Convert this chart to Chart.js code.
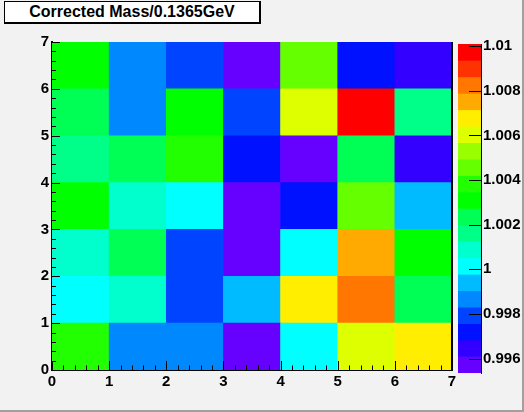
<!DOCTYPE html>
<html>
<head>
<meta charset="utf-8">
<script src="https://cdn.jsdelivr.net/npm/chart.js@4/dist/chart.umd.min.js"></script>
<style>
  html, body { margin: 0; padding: 0; }
  #pad {
    position: relative; width: 524px; height: 412px; box-sizing: border-box;
    background: #f2f2f2; border-right: 2px solid #a0a0a0; border-bottom: 2px solid #a0a0a0;
    font-family: 'Liberation Sans', Arial, sans-serif;
  }
  #pad canvas { position: absolute; left: 0; top: 0; }
  #title {
    position: absolute; left: 4px; top: 1px; width: 254px; height: 20px;
    background: #ffffff; border: 1px solid #000; border-right-width: 2px; border-bottom-width: 2px;
    font-weight: bold; font-size: 16px; line-height: 20px; text-align: center; z-index: 2;
  }
</style>
</head>
<body>
<div id="pad">
  <canvas id="main" width="524" height="412"></canvas>
  <canvas id="palette" width="524" height="412"></canvas>
  <div id="title">Corrected Mass/0.1365GeV</div>
</div>
<script>
// bin edges along x and y
const xBins = [0, 1, 2, 3, 4, 5, 6];
const yBins = [0, 1, 2, 3, 4, 5, 6];

// cell contents, one array per y bin (bottom row first)
const row0 = [1.0038, 0.9987, 0.9986, 0.9955, 1.0001, 1.0060, 1.0068];
const row1 = [1.0002, 1.0009, 0.9979, 0.9994, 1.0067, 1.0083, 1.0024];
const row2 = [1.0008, 1.0023, 0.9980, 0.9957, 1.0000, 1.0075, 1.0031];
const row3 = [1.0031, 1.0010, 1.0001, 0.9958, 0.9972, 1.0046, 0.9993];
const row4 = [1.0016, 1.0024, 1.0039, 0.9971, 0.9954, 1.0022, 0.9965];
const row5 = [1.0025, 0.9987, 1.0030, 0.9979, 1.0060, 1.0101, 1.0017];
const row6 = [1.0032, 0.9986, 0.9978, 0.9959, 1.0045, 0.9971, 0.9964];
const rows = [row0, row1, row2, row3, row4, row5, row6];

const paletteTicks = [0.996, 0.998, 1.0, 1.002, 1.004, 1.006, 1.008, 1.01];
const paletteColors = ['#6600ff', '#3300ff', '#0011ff', '#0044ff', '#0088ff', '#00bbff', '#00ffff',
  '#00ffcc', '#00ff88', '#00ff55', '#00ff00', '#22ff00', '#66ff00', '#99ff00', '#ddff00',
  '#ffee00', '#ffaa00', '#ff7700', '#ff3300', '#ff0000'];

const allValues = rows.flat();
const zMin = Math.min(...allValues) - 0.00005;
const zMax = Math.max(...allValues);
const nLevels = paletteColors.length;

function colorFor(v) {
  let k = Math.floor((v - zMin) / (zMax - zMin) * nLevels);
  k = Math.max(0, Math.min(nLevels - 1, k));
  return paletteColors[k];
}

const font = { family: "'Liberation Sans', Arial, sans-serif", size: 15, weight: 'bold' };

// ROOT style ticks drawn inside the frame
const frameTicks = {
  id: 'frameTicks',
  afterDraw(chart) {
    const { ctx, chartArea: a, scales } = chart;
    ctx.save();
    ctx.strokeStyle = '#000';
    ctx.lineWidth = 1;
    ctx.beginPath();
    for (let i = 0; i <= 35; i++) {
      const v = i / 5;
      const len = i % 5 === 0 ? 9 : 4.5;
      const px = Math.round(scales.x.getPixelForValue(v)) + 0.5;
      ctx.moveTo(px, a.bottom);
      ctx.lineTo(px, a.bottom - len);
      const py = Math.round(scales.y.getPixelForValue(v)) + 0.5;
      ctx.moveTo(a.left, py);
      ctx.lineTo(a.left + (i % 5 === 0 ? 8 : 4), py);
    }
    ctx.stroke();
    ctx.lineWidth = 2;
    ctx.beginPath();
    ctx.moveTo(a.right, a.top);
    ctx.lineTo(a.right, a.bottom + 1);
    ctx.stroke();
    ctx.restore();
  }
};

new Chart(document.getElementById('main'), {
  type: 'bar',
  data: {
    datasets: rows.map((row, r) => ({
      data: row.map((v, c) => ({ x: xBins[c] + 0.5, y: [yBins[r], yBins[r] + 1] })),
      backgroundColor: row.map(colorFor),
      borderWidth: 0,
      grouped: false,
      barPercentage: 1,
      categoryPercentage: 1
    }))
  },
  options: {
    responsive: false,
    animation: false,
    events: [],
    layout: { padding: { top: 42, right: 72, left: 0, bottom: 0 } },
    plugins: { legend: { display: false }, tooltip: { enabled: false } },
    scales: {
      x: {
        type: 'linear', min: 0, max: 7, offset: false,
        grid: { display: false, drawTicks: false, offset: false },
        border: { display: true, color: '#000', width: 2 },
        ticks: { stepSize: 1, color: '#000', font, padding: 3, maxRotation: 0 },
        afterFit(s) { s.height = 42; }
      },
      y: {
        type: 'linear', min: 0, max: 7,
        grid: { display: false, drawTicks: false },
        border: { display: true, color: '#000', width: 2 },
        ticks: { stepSize: 1, color: '#000', font, padding: 3 },
        afterFit(s) { s.width = 52; }
      }
    }
  },
  plugins: [frameTicks]
});

// colour palette on the right
const bandEdges = paletteColors.map((c, k) => zMin + (zMax - zMin) * k / nLevels);

const paletteTicksPlugin = {
  id: 'paletteTicks',
  afterDraw(chart) {
    const { ctx, chartArea: a, scales } = chart;
    ctx.save();
    ctx.strokeStyle = '#000';
    ctx.lineWidth = 1;
    ctx.beginPath();
    paletteTicks.forEach(t => {
      const py = Math.round(scales.y.getPixelForValue(t)) + 0.5;
      ctx.moveTo(a.right, py);
      ctx.lineTo(a.right - 12, py);
    });
    ctx.stroke();
    ctx.restore();
  }
};

new Chart(document.getElementById('palette'), {
  type: 'bar',
  data: {
    datasets: [{
      data: bandEdges.map((lo, k) => ({ x: 0.5, y: [lo, lo + (zMax - zMin) / nLevels] })),
      backgroundColor: paletteColors,
      borderWidth: 0,
      barPercentage: 1,
      categoryPercentage: 1
    }]
  },
  options: {
    responsive: false,
    animation: false,
    events: [],
    layout: { padding: { top: 44, left: 458, right: 0, bottom: 39 } },
    plugins: { legend: { display: false }, tooltip: { enabled: false } },
    scales: {
      x: { type: 'linear', min: 0, max: 1, offset: false, display: false },
      y: {
        type: 'linear', position: 'right', min: zMin, max: zMax,
        grid: { display: false, drawTicks: false },
        border: { display: true, color: '#000', width: 1 },
        ticks: {
          color: '#000', font, padding: 2,
          callback: v => String(+v.toFixed(3))
        },
        afterBuildTicks(s) { s.ticks = paletteTicks.map(v => ({ value: v })); },
        afterFit(s) { s.width = 43; }
      }
    }
  },
  plugins: [paletteTicksPlugin]
});
</script>
</body>
</html>
